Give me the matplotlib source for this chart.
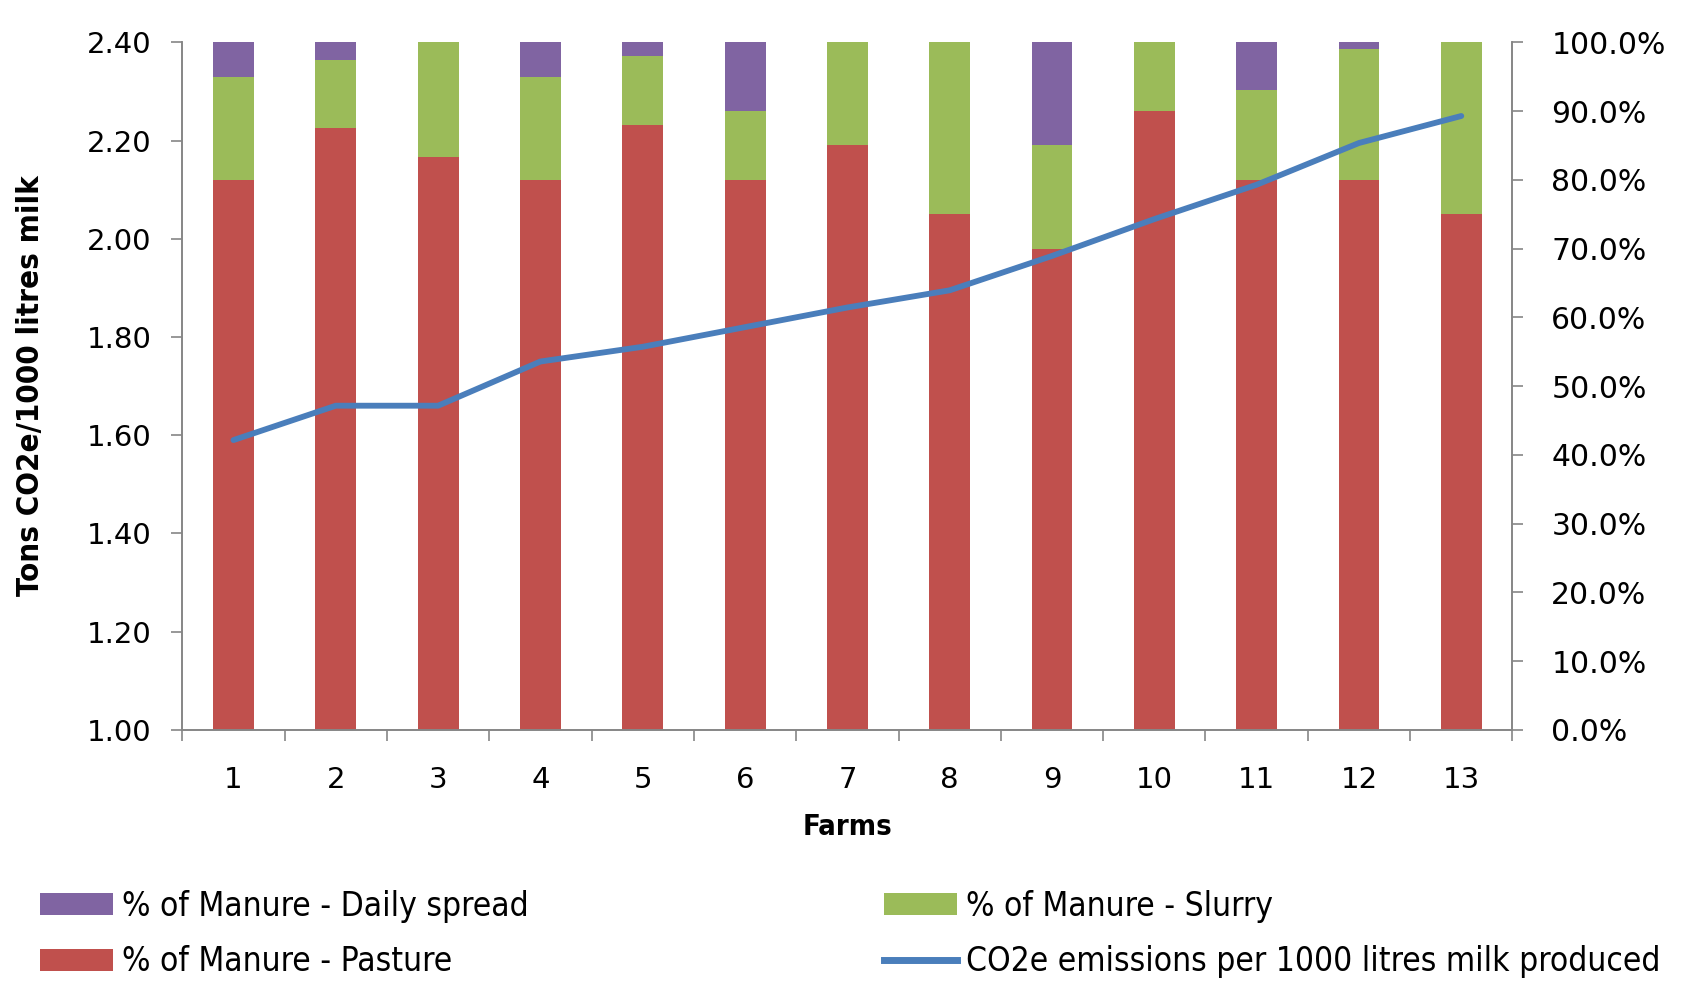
import numpy as np
import matplotlib
matplotlib.use("Agg")
from matplotlib import pyplot as plt
from matplotlib.patches import Patch
from matplotlib.lines import Line2D
from matplotlib.ticker import PercentFormatter, FixedLocator
from matplotlib import font_manager

# data
farms = [str(i) for i in range(1, 14)]
pasture = [80, 87.5, 83.3, 80, 88, 80, 85, 75, 70, 90, 80, 80, 75]
slurry = [15, 10, 16.7, 15, 10, 10, 15, 25, 15, 10, 13, 19, 25]
daily_spread = [5, 2.5, 0, 5, 2, 10, 0, 0, 15, 0, 7, 1, 0]
co2e = [1.59, 1.66, 1.66, 1.75, 1.78, 1.82, 1.86, 1.895, 1.965, 2.04, 2.11, 2.195, 2.25]

RED = "#C0504D"
GREEN = "#9BBB59"
PURPLE = "#8064A2"
BLUE = "#4A7EBB"
AXIS_GREY = "#868686"

fig = plt.figure(figsize=(16.88, 10.08), dpi=100)
ax = fig.add_axes([0.108, 0.276, 0.788, 0.682])
ax2 = ax.twinx()

x = np.arange(len(farms))
pasture = np.array(pasture)
slurry = np.array(slurry)
daily_spread = np.array(daily_spread)

ax2.bar(x, pasture, width=0.4, color=RED)
ax2.bar(x, slurry, width=0.4, bottom=pasture, color=GREEN)
ax2.bar(x, daily_spread, width=0.4, bottom=pasture + slurry, color=PURPLE)

# line on the primary axis, drawn above the bars
ax.set_zorder(ax2.get_zorder() + 1)
ax.patch.set_visible(False)
ax.plot(x, co2e, color=BLUE, lw=4.2, solid_capstyle="round", solid_joinstyle="round")

ax.set_xlim(-0.5, len(farms) - 0.5)
ax.set_ylim(1.0, 2.4)
ax.set_yticks(np.arange(1.0, 2.41, 0.2))
ax.set_yticklabels([f"{v:.2f}" for v in np.arange(1.0, 2.41, 0.2)])
ax2.set_ylim(0, 100)
ax2.set_yticks(np.arange(0, 101, 10))
ax2.yaxis.set_major_formatter(PercentFormatter(xmax=100, decimals=1))

ax.set_xticks(x)
ax.set_xticklabels(farms)
ax.xaxis.set_minor_locator(FixedLocator(np.arange(-0.5, len(farms), 1.0)))
ax.tick_params(axis="x", which="major", length=0, labelsize=21, pad=26)
ax.tick_params(axis="x", which="minor", length=8, color=AXIS_GREY, width=1.2)
ax.tick_params(axis="y", length=8, color=AXIS_GREY, width=1.2, labelsize=21, pad=14)
ax2.tick_params(axis="y", length=8, color=AXIS_GREY, width=1.2, labelsize=21.5, pad=20)

for a in (ax, ax2):
    a.spines["top"].set_visible(False)
    for s in ("left", "right", "bottom"):
        a.spines[s].set_color(AXIS_GREY)
        a.spines[s].set_linewidth(1.2)

narrow = font_manager.FontProperties(family="DejaVu Sans", stretch="condensed", size=24)
narrow_bold = font_manager.FontProperties(family="DejaVu Sans", stretch="condensed",
                                          weight="bold", size=22.4)
farms_bold = font_manager.FontProperties(family="DejaVu Sans", stretch="condensed",
                                         weight="bold", size=21)

ax.set_ylabel("Tons CO2e/1000 litres milk", fontproperties=narrow_bold, labelpad=30)
ax.set_xlabel("Farms", fontproperties=farms_bold, labelpad=14)

handles = [
    Patch(facecolor=PURPLE),
    Patch(facecolor=RED),
    Patch(facecolor=GREEN),
    Line2D([0], [0], color=BLUE, lw=5),
]
labels = [
    "% of Manure - Daily spread",
    "% of Manure - Pasture",
    "% of Manure - Slurry",
    "CO2e emissions per 1000 litres milk produced",
]
fig.legend(handles, labels, ncol=2, loc="upper left", bbox_to_anchor=(0.006, 0.147),
           frameon=False, prop=narrow,
           handlelength=2.2, handleheight=0.66, handletextpad=0.26,
           columnspacing=10.65, labelspacing=0.68)

fig.savefig("out.png", dpi=100)
